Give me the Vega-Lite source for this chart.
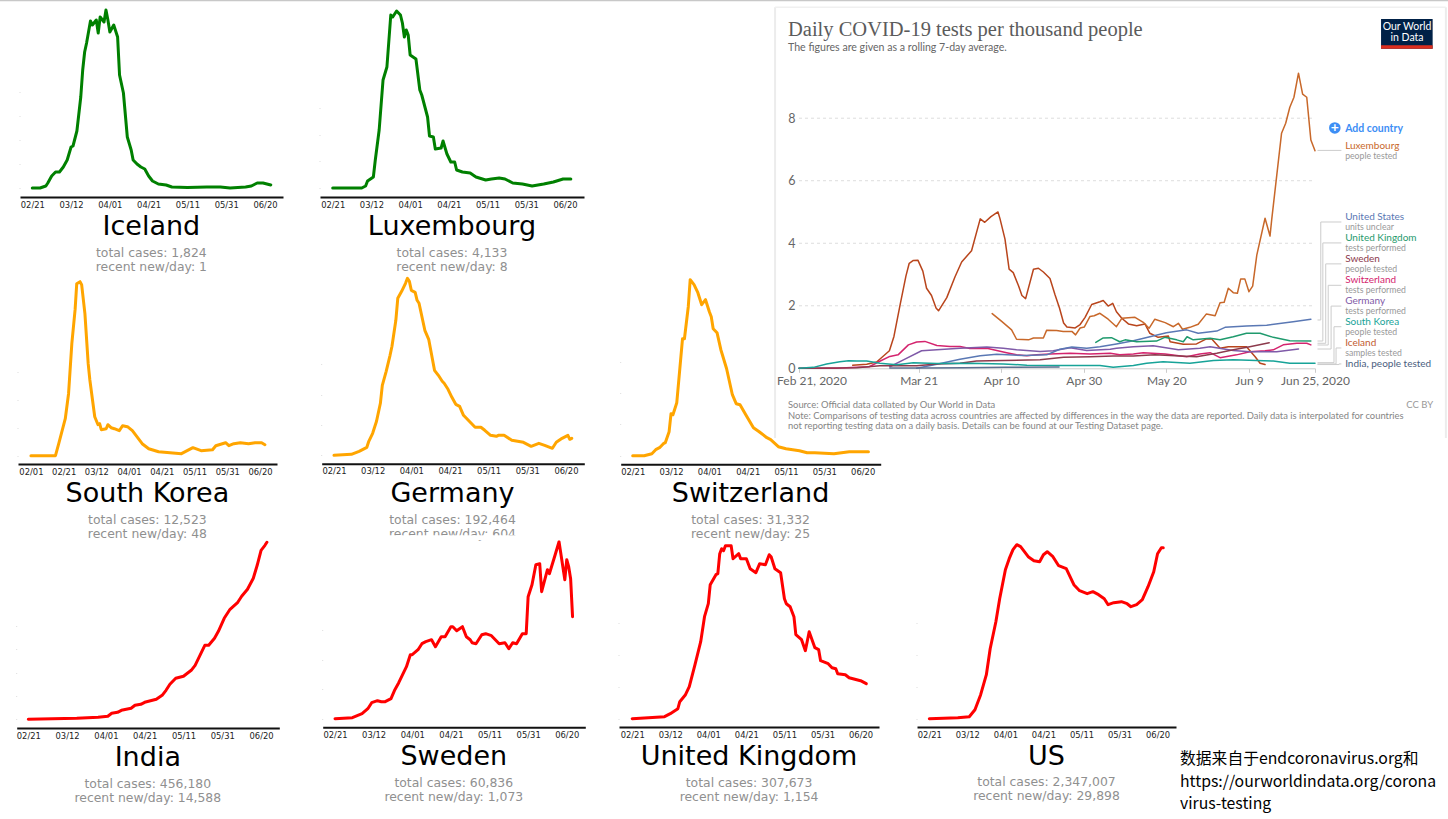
{"$schema":"https://vega.github.io/schema/vega-lite/v6.json","width":1448,"height":819,"padding":0,"autosize":{"type":"none"},"background":"white",
"config":{"view":{"stroke":null},"axis":{"grid":false,"labelOverlap":false,"labelFlush":false},"axisX":{"domainColor":"#111","domainWidth":2,"ticks":false,"labelFont":"DejaVu Sans","labelFontSize":8.4,"labelColor":"#222","labelPadding":3,"labelAngle":0},"axisY":{"labels":false,"domain":false,"tickSize":1,"tickColor":"#dddddd"},"text":{"font":"DejaVu Sans"},"line":{"strokeJoin":"round","strokeCap":"round"}},
"datasets":{
"iceland":[{"day":0,"v":0},{"day":4,"v":0},{"day":7,"v":2},{"day":8,"v":5},{"day":10,"v":12},{"day":12,"v":16},{"day":14,"v":16},{"day":16,"v":21},{"day":18,"v":28},{"day":20,"v":41},{"day":21,"v":42},{"day":23,"v":57},{"day":25,"v":91},{"day":26,"v":118},{"day":27,"v":136},{"day":28,"v":145},{"day":30,"v":167},{"day":31,"v":163},{"day":33,"v":168},{"day":34,"v":155},{"day":35,"v":171},{"day":37,"v":166},{"day":38,"v":178},{"day":39,"v":168},{"day":40,"v":156},{"day":42,"v":163},{"day":44,"v":151},{"day":45,"v":113},{"day":47,"v":95},{"day":49,"v":51},{"day":51,"v":38},{"day":52,"v":28},{"day":54,"v":24},{"day":56,"v":21},{"day":58,"v":19},{"day":60,"v":12},{"day":62,"v":7},{"day":65,"v":4},{"day":69,"v":3},{"day":72,"v":1},{"day":80,"v":0.5},{"day":90,"v":1},{"day":97,"v":1},{"day":102,"v":0},{"day":110,"v":1},{"day":113,"v":2},{"day":116,"v":5},{"day":119,"v":5},{"day":123,"v":3}],
"luxembourg":[{"day":0,"v":0},{"day":15,"v":0},{"day":17,"v":2},{"day":18,"v":7},{"day":21,"v":11},{"day":22,"v":28},{"day":24,"v":58},{"day":26,"v":108},{"day":28,"v":121},{"day":30,"v":173},{"day":31,"v":171},{"day":33,"v":177},{"day":35,"v":173},{"day":36,"v":165},{"day":37,"v":151},{"day":38,"v":158},{"day":39,"v":153},{"day":40,"v":133},{"day":43,"v":129},{"day":45,"v":98},{"day":46,"v":93},{"day":49,"v":71},{"day":50,"v":52},{"day":52,"v":51},{"day":53,"v":39},{"day":56,"v":40},{"day":57,"v":47},{"day":59,"v":34},{"day":61,"v":26},{"day":63,"v":26},{"day":64,"v":18},{"day":67,"v":16},{"day":71,"v":15},{"day":74,"v":11},{"day":79,"v":8},{"day":82,"v":9},{"day":86,"v":10},{"day":89,"v":9},{"day":93,"v":5},{"day":98,"v":4},{"day":103,"v":2},{"day":109,"v":4},{"day":114,"v":6},{"day":119,"v":9},{"day":123,"v":9}],
"korea":[{"day":-20,"v":0},{"day":-5,"v":0},{"day":-3,"v":12},{"day":1,"v":37},{"day":3,"v":62},{"day":5,"v":112},{"day":7,"v":146},{"day":8,"v":172},{"day":10,"v":174},{"day":11,"v":171},{"day":13,"v":142},{"day":15,"v":92},{"day":16,"v":76},{"day":19,"v":39},{"day":21,"v":31},{"day":22,"v":32},{"day":23,"v":26},{"day":26,"v":27},{"day":27,"v":31},{"day":29,"v":28},{"day":31,"v":27},{"day":34,"v":25},{"day":36,"v":30},{"day":39,"v":29},{"day":42,"v":25},{"day":48,"v":12},{"day":52,"v":7},{"day":58,"v":4},{"day":65,"v":3},{"day":72,"v":2},{"day":79,"v":8},{"day":84,"v":5},{"day":91,"v":6},{"day":93,"v":10},{"day":99,"v":13},{"day":101,"v":10},{"day":104,"v":12},{"day":108,"v":13},{"day":113,"v":12},{"day":117,"v":13},{"day":121,"v":13},{"day":123,"v":11}],
"germany":[{"day":0,"v":0},{"day":9,"v":1},{"day":13,"v":4},{"day":17,"v":8},{"day":18,"v":14},{"day":20,"v":22},{"day":22,"v":34},{"day":24,"v":52},{"day":25,"v":70},{"day":27,"v":84},{"day":29,"v":100},{"day":30,"v":109},{"day":32,"v":135},{"day":33,"v":157},{"day":35,"v":164},{"day":37,"v":172},{"day":38,"v":177},{"day":39,"v":174},{"day":40,"v":165},{"day":42,"v":163},{"day":43,"v":155},{"day":44,"v":152},{"day":47,"v":125},{"day":49,"v":116},{"day":52,"v":85},{"day":54,"v":80},{"day":56,"v":74},{"day":57,"v":72},{"day":59,"v":66},{"day":61,"v":58},{"day":63,"v":51},{"day":65,"v":49},{"day":67,"v":40},{"day":71,"v":32},{"day":73,"v":28},{"day":76,"v":28},{"day":78,"v":25},{"day":81,"v":20},{"day":84,"v":19},{"day":85,"v":20},{"day":88,"v":20},{"day":92,"v":15},{"day":95,"v":14},{"day":98,"v":13},{"day":102,"v":9},{"day":106,"v":12},{"day":109,"v":10},{"day":113,"v":7},{"day":115,"v":13},{"day":118,"v":17},{"day":121,"v":20},{"day":122,"v":16},{"day":123,"v":17}],
"switzerland":[{"day":0,"v":0},{"day":6,"v":0},{"day":10,"v":2},{"day":12,"v":6},{"day":14,"v":8},{"day":16,"v":12},{"day":17,"v":13},{"day":19,"v":24},{"day":20,"v":42},{"day":21,"v":41},{"day":23,"v":53},{"day":26,"v":117},{"day":27,"v":117},{"day":29,"v":149},{"day":30,"v":176},{"day":32,"v":171},{"day":34,"v":163},{"day":36,"v":151},{"day":38,"v":156},{"day":40,"v":144},{"day":41,"v":139},{"day":42,"v":127},{"day":44,"v":123},{"day":46,"v":106},{"day":49,"v":87},{"day":52,"v":61},{"day":54,"v":52},{"day":56,"v":51},{"day":59,"v":41},{"day":63,"v":28},{"day":66,"v":24},{"day":70,"v":18},{"day":72,"v":16},{"day":76,"v":9},{"day":80,"v":7},{"day":87,"v":5},{"day":91,"v":3},{"day":95,"v":3},{"day":105,"v":2},{"day":113,"v":4},{"day":123,"v":4}],
"india":[{"day":0,"v":0},{"day":25,"v":1},{"day":36,"v":2},{"day":41,"v":3},{"day":43,"v":6},{"day":46,"v":7},{"day":48,"v":9},{"day":53,"v":11},{"day":55,"v":14},{"day":58,"v":15},{"day":60,"v":17},{"day":62,"v":18},{"day":66,"v":20},{"day":69,"v":24},{"day":71,"v":29},{"day":73,"v":35},{"day":76,"v":41},{"day":80,"v":43},{"day":84,"v":49},{"day":86,"v":54},{"day":89,"v":66},{"day":91,"v":74},{"day":93,"v":74},{"day":96,"v":81},{"day":98,"v":88},{"day":101,"v":101},{"day":104,"v":110},{"day":108,"v":117},{"day":110,"v":123},{"day":113,"v":130},{"day":116,"v":141},{"day":118,"v":154},{"day":120,"v":169},{"day":122,"v":174},{"day":123,"v":177}],
"sweden":[{"day":0,"v":0},{"day":9,"v":1},{"day":14,"v":5},{"day":17,"v":10},{"day":19,"v":16},{"day":22,"v":18},{"day":24,"v":17},{"day":26,"v":17},{"day":29,"v":20},{"day":31,"v":29},{"day":33,"v":36},{"day":35,"v":44},{"day":37,"v":52},{"day":39,"v":64},{"day":40,"v":64},{"day":43,"v":69},{"day":45,"v":75},{"day":47,"v":77},{"day":50,"v":79},{"day":52,"v":72},{"day":55,"v":82},{"day":57,"v":82},{"day":60,"v":92},{"day":61,"v":92},{"day":63,"v":88},{"day":66,"v":92},{"day":68,"v":82},{"day":70,"v":79},{"day":71,"v":76},{"day":73,"v":75},{"day":76,"v":84},{"day":78,"v":85},{"day":81,"v":83},{"day":83,"v":79},{"day":85,"v":75},{"day":88,"v":76},{"day":90,"v":70},{"day":92,"v":76},{"day":94,"v":75},{"day":97,"v":85},{"day":99,"v":85},{"day":100,"v":122},{"day":102,"v":134},{"day":104,"v":154},{"day":106,"v":155},{"day":107,"v":127},{"day":110,"v":149},{"day":111,"v":145},{"day":114,"v":164},{"day":116,"v":177},{"day":119,"v":139},{"day":120,"v":159},{"day":121,"v":152},{"day":122,"v":140},{"day":123,"v":102}],
"uk":[{"day":0,"v":0},{"day":17,"v":2},{"day":20,"v":5},{"day":24,"v":10},{"day":25,"v":17},{"day":28,"v":24},{"day":30,"v":32},{"day":33,"v":54},{"day":36,"v":77},{"day":38,"v":102},{"day":40,"v":115},{"day":41,"v":134},{"day":44,"v":144},{"day":45,"v":145},{"day":46,"v":165},{"day":47,"v":170},{"day":48,"v":168},{"day":49,"v":173},{"day":52,"v":173},{"day":53,"v":160},{"day":56,"v":165},{"day":57,"v":160},{"day":60,"v":160},{"day":62,"v":150},{"day":65,"v":146},{"day":67,"v":155},{"day":70,"v":154},{"day":72,"v":164},{"day":73,"v":162},{"day":75,"v":150},{"day":78,"v":146},{"day":80,"v":120},{"day":81,"v":115},{"day":83,"v":112},{"day":85,"v":102},{"day":86,"v":84},{"day":89,"v":79},{"day":91,"v":68},{"day":93,"v":87},{"day":96,"v":71},{"day":98,"v":69},{"day":99,"v":58},{"day":103,"v":55},{"day":105,"v":51},{"day":107,"v":50},{"day":108,"v":45},{"day":112,"v":44},{"day":114,"v":41},{"day":120,"v":38},{"day":123,"v":35}],
"us":[{"day":0,"v":0},{"day":15,"v":1},{"day":21,"v":2},{"day":24,"v":9},{"day":27,"v":24},{"day":30,"v":44},{"day":32,"v":70},{"day":35,"v":97},{"day":37,"v":120},{"day":40,"v":149},{"day":42,"v":160},{"day":44,"v":169},{"day":46,"v":174},{"day":48,"v":172},{"day":52,"v":162},{"day":55,"v":158},{"day":58,"v":157},{"day":60,"v":164},{"day":62,"v":167},{"day":65,"v":162},{"day":68,"v":153},{"day":72,"v":150},{"day":76,"v":134},{"day":79,"v":128},{"day":83,"v":125},{"day":86,"v":127},{"day":89,"v":124},{"day":92,"v":120},{"day":94,"v":114},{"day":97,"v":116},{"day":101,"v":117},{"day":104,"v":115},{"day":106,"v":112},{"day":109,"v":114},{"day":112,"v":119},{"day":115,"v":132},{"day":118,"v":147},{"day":120,"v":165},{"day":122,"v":171},{"day":123,"v":171}],
"tests":[
{"s":"Iceland","day":13,"v":0.1},{"s":"Iceland","day":16.4,"v":0.13},{"s":"Iceland","day":18.8,"v":0.2},{"s":"Iceland","day":21.9,"v":0.56},{"s":"Iceland","day":23,"v":1.02},{"s":"Iceland","day":24.5,"v":2.04},{"s":"Iceland","day":25.9,"v":2.95},{"s":"Iceland","day":26.7,"v":3.36},{"s":"Iceland","day":27.7,"v":3.45},{"s":"Iceland","day":28.8,"v":3.46},{"s":"Iceland","day":30,"v":3.11},{"s":"Iceland","day":30.9,"v":2.56},{"s":"Iceland","day":32.1,"v":2.33},{"s":"Iceland","day":33.2,"v":1.93},{"s":"Iceland","day":33.8,"v":1.84},{"s":"Iceland","day":35.8,"v":2.26},{"s":"Iceland","day":37.8,"v":2.93},{"s":"Iceland","day":39.4,"v":3.4},{"s":"Iceland","day":41.8,"v":3.76},{"s":"Iceland","day":43.9,"v":4.78},{"s":"Iceland","day":45,"v":4.67},{"s":"Iceland","day":46.5,"v":4.85},{"s":"Iceland","day":48.2,"v":5},{"s":"Iceland","day":48.7,"v":4.78},{"s":"Iceland","day":49.9,"v":4.13},{"s":"Iceland","day":50.9,"v":3.17},{"s":"Iceland","day":51.9,"v":3.06},{"s":"Iceland","day":53.2,"v":2.63},{"s":"Iceland","day":54,"v":2.33},{"s":"Iceland","day":54.9,"v":2.23},{"s":"Iceland","day":56.8,"v":3.17},{"s":"Iceland","day":58,"v":3.2},{"s":"Iceland","day":59.2,"v":3.08},{"s":"Iceland","day":60.8,"v":2.87},{"s":"Iceland","day":62,"v":2.36},{"s":"Iceland","day":63.1,"v":1.93},{"s":"Iceland","day":64.1,"v":1.45},{"s":"Iceland","day":64.9,"v":1.32},{"s":"Iceland","day":66.9,"v":1.29},{"s":"Iceland","day":68.1,"v":1.4},{"s":"Iceland","day":69.3,"v":1.63},{"s":"Iceland","day":70.9,"v":2.04},{"s":"Iceland","day":72.9,"v":2.13},{"s":"Iceland","day":73.7,"v":2.17},{"s":"Iceland","day":74.9,"v":1.99},{"s":"Iceland","day":76,"v":2.08},{"s":"Iceland","day":76.9,"v":1.81},{"s":"Iceland","day":78.2,"v":1.6},{"s":"Iceland","day":79.8,"v":1.42},{"s":"Iceland","day":81.8,"v":1.36},{"s":"Iceland","day":83.8,"v":1.42},{"s":"Iceland","day":85,"v":1.12},{"s":"Iceland","day":87,"v":0.99},{"s":"Iceland","day":89.5,"v":1.03},{"s":"Iceland","day":89.9,"v":0.85},{"s":"Iceland","day":93.1,"v":0.77},{"s":"Iceland","day":96.3,"v":0.78},{"s":"Iceland","day":98.7,"v":0.94},{"s":"Iceland","day":100,"v":0.94},{"s":"Iceland","day":102,"v":0.64},{"s":"Iceland","day":104,"v":0.69},{"s":"Iceland","day":108.4,"v":0.69},{"s":"Iceland","day":110.5,"v":0.37},{"s":"Iceland","day":111.7,"v":0.16},{"s":"Iceland","day":112.9,"v":0.12},
{"s":"Luxembourg","day":46.8,"v":1.75},{"s":"Luxembourg","day":49.1,"v":1.5},{"s":"Luxembourg","day":51.5,"v":1.23},{"s":"Luxembourg","day":52.7,"v":0.93},{"s":"Luxembourg","day":55.6,"v":0.91},{"s":"Luxembourg","day":56.8,"v":0.97},{"s":"Luxembourg","day":59.2,"v":0.97},{"s":"Luxembourg","day":60,"v":1.22},{"s":"Luxembourg","day":62.4,"v":1.21},{"s":"Luxembourg","day":64,"v":1.18},{"s":"Luxembourg","day":66.1,"v":1.18},{"s":"Luxembourg","day":67,"v":1.07},{"s":"Luxembourg","day":68.1,"v":1.29},{"s":"Luxembourg","day":69.1,"v":1.32},{"s":"Luxembourg","day":70.5,"v":1.66},{"s":"Luxembourg","day":71.5,"v":1.68},{"s":"Luxembourg","day":72.9,"v":1.76},{"s":"Luxembourg","day":74.9,"v":1.57},{"s":"Luxembourg","day":76.9,"v":1.33},{"s":"Luxembourg","day":78.2,"v":1.6},{"s":"Luxembourg","day":81.4,"v":1.63},{"s":"Luxembourg","day":83.4,"v":1.47},{"s":"Luxembourg","day":84.8,"v":1.28},{"s":"Luxembourg","day":86.2,"v":1.57},{"s":"Luxembourg","day":88.7,"v":1.46},{"s":"Luxembourg","day":90.7,"v":1.33},{"s":"Luxembourg","day":91.9,"v":1.44},{"s":"Luxembourg","day":92.9,"v":1.25},{"s":"Luxembourg","day":94.7,"v":1.31},{"s":"Luxembourg","day":96.7,"v":1.41},{"s":"Luxembourg","day":98.7,"v":1.74},{"s":"Luxembourg","day":100.8,"v":1.68},{"s":"Luxembourg","day":102,"v":2.1},{"s":"Luxembourg","day":103,"v":2.11},{"s":"Luxembourg","day":104,"v":2.56},{"s":"Luxembourg","day":105.2,"v":2.42},{"s":"Luxembourg","day":106.2,"v":2.4},{"s":"Luxembourg","day":107,"v":2.86},{"s":"Luxembourg","day":108,"v":2.86},{"s":"Luxembourg","day":109,"v":2.45},{"s":"Luxembourg","day":109.9,"v":2.63},{"s":"Luxembourg","day":110.9,"v":3.62},{"s":"Luxembourg","day":112.9,"v":4.8},{"s":"Luxembourg","day":114.1,"v":4.23},{"s":"Luxembourg","day":114.5,"v":4.74},{"s":"Luxembourg","day":116.9,"v":7.52},{"s":"Luxembourg","day":117.9,"v":7.84},{"s":"Luxembourg","day":118.9,"v":8.35},{"s":"Luxembourg","day":119.9,"v":8.67},{"s":"Luxembourg","day":121,"v":9.44},{"s":"Luxembourg","day":122,"v":8.77},{"s":"Luxembourg","day":123,"v":8.67},{"s":"Luxembourg","day":124,"v":7.3},{"s":"Luxembourg","day":125,"v":6.96},
{"s":"Switzerland","day":0,"v":0},{"s":"Switzerland","day":9,"v":0},{"s":"Switzerland","day":14,"v":0.03},{"s":"Switzerland","day":17,"v":0.05},{"s":"Switzerland","day":19.2,"v":0.2},{"s":"Switzerland","day":22,"v":0.38},{"s":"Switzerland","day":24,"v":0.43},{"s":"Switzerland","day":26.5,"v":0.75},{"s":"Switzerland","day":28.5,"v":0.84},{"s":"Switzerland","day":30.5,"v":0.86},{"s":"Switzerland","day":33.4,"v":0.73},{"s":"Switzerland","day":36.6,"v":0.7},{"s":"Switzerland","day":39,"v":0.7},{"s":"Switzerland","day":41.4,"v":0.63},{"s":"Switzerland","day":45.5,"v":0.64},{"s":"Switzerland","day":47.9,"v":0.57},{"s":"Switzerland","day":50.3,"v":0.5},{"s":"Switzerland","day":52.7,"v":0.43},{"s":"Switzerland","day":55.2,"v":0.4},{"s":"Switzerland","day":57.6,"v":0.43},{"s":"Switzerland","day":60.8,"v":0.46},{"s":"Switzerland","day":65.7,"v":0.48},{"s":"Switzerland","day":70.5,"v":0.46},{"s":"Switzerland","day":75.4,"v":0.48},{"s":"Switzerland","day":77.7,"v":0.43},{"s":"Switzerland","day":81,"v":0.46},{"s":"Switzerland","day":83.4,"v":0.5},{"s":"Switzerland","day":88.7,"v":0.46},{"s":"Switzerland","day":93.9,"v":0.37},{"s":"Switzerland","day":97.1,"v":0.46},{"s":"Switzerland","day":99.6,"v":0.5},{"s":"Switzerland","day":102,"v":0.34},{"s":"Switzerland","day":106,"v":0.43},{"s":"Switzerland","day":109.2,"v":0.53},{"s":"Switzerland","day":112.9,"v":0.56},{"s":"Switzerland","day":114.9,"v":0.59},{"s":"Switzerland","day":117.3,"v":0.75},{"s":"Switzerland","day":120.6,"v":0.8},{"s":"Switzerland","day":123,"v":0.8},{"s":"Switzerland","day":124,"v":0.75},
{"s":"Germany","day":22,"v":0.05},{"s":"Germany","day":25.3,"v":0.27},{"s":"Germany","day":29.7,"v":0.56},{"s":"Germany","day":33.4,"v":0.59},{"s":"Germany","day":39,"v":0.64},{"s":"Germany","day":45.5,"v":0.68},{"s":"Germany","day":49.5,"v":0.64},{"s":"Germany","day":52.7,"v":0.59},{"s":"Germany","day":58.4,"v":0.54},{"s":"Germany","day":61.6,"v":0.56},{"s":"Germany","day":65.7,"v":0.66},{"s":"Germany","day":69.7,"v":0.57},{"s":"Germany","day":75.4,"v":0.61},{"s":"Germany","day":76.9,"v":0.64},{"s":"Germany","day":81,"v":0.69},{"s":"Germany","day":85.8,"v":0.72},{"s":"Germany","day":91.9,"v":0.59},{"s":"Germany","day":97.1,"v":0.64},{"s":"Germany","day":99.6,"v":0.69},{"s":"Germany","day":105.2,"v":0.57},{"s":"Germany","day":109.2,"v":0.53},{"s":"Germany","day":115.7,"v":0.53},{"s":"Germany","day":121,"v":0.62},
{"s":"United States","day":28.5,"v":0},{"s":"United States","day":33.4,"v":0.13},{"s":"United States","day":39,"v":0.29},{"s":"United States","day":43.9,"v":0.4},{"s":"United States","day":47.9,"v":0.45},{"s":"United States","day":54.4,"v":0.41},{"s":"United States","day":60,"v":0.43},{"s":"United States","day":63.2,"v":0.61},{"s":"United States","day":66.1,"v":0.68},{"s":"United States","day":69.7,"v":0.64},{"s":"United States","day":72.9,"v":0.69},{"s":"United States","day":76.9,"v":0.78},{"s":"United States","day":81,"v":0.88},{"s":"United States","day":85,"v":1.01},{"s":"United States","day":89,"v":1.14},{"s":"United States","day":93.9,"v":1.23},{"s":"United States","day":96.7,"v":1.12},{"s":"United States","day":101.2,"v":1.19},{"s":"United States","day":103.2,"v":1.31},{"s":"United States","day":108.4,"v":1.35},{"s":"United States","day":113.3,"v":1.38},{"s":"United States","day":119.7,"v":1.49},{"s":"United States","day":124,"v":1.57},
{"s":"United Kingdom","day":71.9,"v":0.83},{"s":"United Kingdom","day":73.7,"v":0.97},{"s":"United Kingdom","day":75.7,"v":0.98},{"s":"United Kingdom","day":77.7,"v":0.85},{"s":"United Kingdom","day":79,"v":0.91},{"s":"United Kingdom","day":81.8,"v":0.85},{"s":"United Kingdom","day":86.6,"v":0.87},{"s":"United Kingdom","day":88.6,"v":0.99},{"s":"United Kingdom","day":91.5,"v":0.91},{"s":"United Kingdom","day":93.1,"v":0.85},{"s":"United Kingdom","day":94,"v":1.01},{"s":"United Kingdom","day":95.5,"v":0.91},{"s":"United Kingdom","day":99.6,"v":0.96},{"s":"United Kingdom","day":102,"v":0.91},{"s":"United Kingdom","day":105.2,"v":1.01},{"s":"United Kingdom","day":108.4,"v":1.12},{"s":"United Kingdom","day":111.7,"v":1.12},{"s":"United Kingdom","day":114.9,"v":0.99},{"s":"United Kingdom","day":118.9,"v":0.88},{"s":"United Kingdom","day":124,"v":0.87},
{"s":"Sweden","day":0,"v":0},{"s":"Sweden","day":14,"v":0.02},{"s":"Sweden","day":19.6,"v":0.08},{"s":"Sweden","day":28.5,"v":0.08},{"s":"Sweden","day":33.4,"v":0.14},{"s":"Sweden","day":39,"v":0.16},{"s":"Sweden","day":43,"v":0.23},{"s":"Sweden","day":49.5,"v":0.25},{"s":"Sweden","day":58.4,"v":0.27},{"s":"Sweden","day":64.1,"v":0.35},{"s":"Sweden","day":70.5,"v":0.37},{"s":"Sweden","day":76.1,"v":0.39},{"s":"Sweden","day":81,"v":0.39},{"s":"Sweden","day":86.2,"v":0.43},{"s":"Sweden","day":92.3,"v":0.39},{"s":"Sweden","day":96.3,"v":0.37},{"s":"Sweden","day":101.2,"v":0.48},{"s":"Sweden","day":105.2,"v":0.59},{"s":"Sweden","day":109.2,"v":0.69},{"s":"Sweden","day":113.9,"v":0.82},
{"s":"South Korea","day":0,"v":0},{"s":"South Korea","day":3.5,"v":0.03},{"s":"South Korea","day":6.7,"v":0.14},{"s":"South Korea","day":9.9,"v":0.21},{"s":"South Korea","day":12,"v":0.24},{"s":"South Korea","day":14,"v":0.23},{"s":"South Korea","day":16.4,"v":0.23},{"s":"South Korea","day":19.6,"v":0.16},{"s":"South Korea","day":23.7,"v":0.11},{"s":"South Korea","day":27.7,"v":0.18},{"s":"South Korea","day":33.4,"v":0.15},{"s":"South Korea","day":41.4,"v":0.16},{"s":"South Korea","day":49.5,"v":0.14},{"s":"South Korea","day":55.2,"v":0.1},{"s":"South Korea","day":62.4,"v":0.09},{"s":"South Korea","day":72.9,"v":0.09},{"s":"South Korea","day":76.1,"v":0.03},{"s":"South Korea","day":81,"v":0.09},{"s":"South Korea","day":84.2,"v":0.16},{"s":"South Korea","day":88.2,"v":0.21},{"s":"South Korea","day":94.7,"v":0.16},{"s":"South Korea","day":100.4,"v":0.25},{"s":"South Korea","day":105.2,"v":0.27},{"s":"South Korea","day":114.9,"v":0.23},{"s":"South Korea","day":118.9,"v":0.16},{"s":"South Korea","day":125,"v":0.16},
{"s":"India","day":22,"v":0.01},{"s":"India","day":30,"v":0.01},{"s":"India","day":40,"v":0.02},{"s":"India","day":50,"v":0.03},{"s":"India","day":63,"v":0.04}
],
"connectors":[
{"id":"us","i":1,"day":125.7,"v":1.545},{"id":"us","i":2,"day":126.4,"v":1.545},{"id":"us","i":3,"day":126.4,"v":4.68},{"id":"us","i":4,"day":131.3,"v":4.68},
{"id":"uk","i":1,"day":125.7,"v":0.873},{"id":"uk","i":2,"day":126.9,"v":0.873},{"id":"uk","i":3,"day":126.9,"v":4.01},{"id":"uk","i":4,"day":131.3,"v":4.01},
{"id":"se","i":1,"day":125.7,"v":0.8},{"id":"se","i":2,"day":127.6,"v":0.8},{"id":"se","i":3,"day":127.6,"v":3.34},{"id":"se","i":4,"day":131.3,"v":3.34},
{"id":"ch","i":1,"day":125.7,"v":0.745},{"id":"ch","i":2,"day":128.2,"v":0.745},{"id":"ch","i":3,"day":128.2,"v":2.655},{"id":"ch","i":4,"day":131.3,"v":2.655},
{"id":"de","i":1,"day":125.7,"v":0.617},{"id":"de","i":2,"day":128.9,"v":0.617},{"id":"de","i":3,"day":128.9,"v":1.99},{"id":"de","i":4,"day":131.3,"v":1.99},
{"id":"kr","i":1,"day":125.7,"v":0.18},{"id":"kr","i":2,"day":129.6,"v":0.18},{"id":"kr","i":3,"day":129.6,"v":1.33},{"id":"kr","i":4,"day":131.3,"v":1.33},
{"id":"is","i":1,"day":125.7,"v":0.14},{"id":"is","i":2,"day":130.1,"v":0.14},{"id":"is","i":3,"day":130.1,"v":0.65},{"id":"is","i":4,"day":131.3,"v":0.65},
{"id":"in","i":1,"day":125.7,"v":0.12},{"id":"in","i":2,"day":130.8,"v":0.12},{"id":"in","i":3,"day":130.8,"v":0.14},{"id":"in","i":4,"day":131.3,"v":0.14},
{"id":"lu","i":1,"day":125.7,"v":6.97},{"id":"lu","i":2,"day":131.3,"v":6.97}
]},
"layer":[
{"layer":[
{"data":{"values":[{}]},"mark":{"type":"rule","color":"#c8c8c8","strokeWidth":2},"encoding":{"x":{"datum":-193.6,"scale":{"domain":[0,125],"range":[799,1315],"zero":false,"nice":false}},"x2":{"datum":157.3},"y":{"datum":11.77,"scale":{"domain":[0,8],"range":[368.3,118.2],"zero":false,"nice":false}}}},
{"data":{"values":[{}]},"mark":{"type":"rule","color":"#ececec","strokeWidth":2},"encoding":{"x":{"datum":-5.8},"y":{"datum":-2.23},"y2":{"datum":11.55}}},
{"data":{"values":[{}]},"mark":{"type":"rule","color":"#ececec","strokeWidth":2},"encoding":{"x":{"datum":156.7},"y":{"datum":-2.23},"y2":{"datum":11.55}}},
{"data":{"values":[{}]},"mark":{"type":"rule","color":"#f0f0f0","strokeWidth":1.5},"encoding":{"x":{"datum":-5.8},"x2":{"datum":156.7},"y":{"datum":11.55}}},
{"data":{"values":[{"g":2},{"g":4},{"g":6},{"g":8}]},"mark":{"type":"rule","color":"#dddddd","strokeWidth":1,"strokeDash":[3,3]},"encoding":{"x":{"datum":0},"x2":{"datum":125},"y":{"field":"g","type":"quantitative"}}},
{"data":{"name":"connectors"},"mark":{"type":"line","color":"#cccccc","strokeWidth":1},"encoding":{"x":{"field":"day","type":"quantitative"},"y":{"field":"v","type":"quantitative"},"detail":{"field":"id"},"order":{"field":"i","type":"quantitative"}}},
{"data":{"name":"tests"},"mark":{"type":"line","strokeWidth":1.5},"encoding":{"x":{"field":"day","type":"quantitative","title":null,"axis":{"orient":"bottom","offset":-450.7,"values":[0,29,49,69,89,109,125],"labelExpr":"datum.value==0||datum.value==125?timeFormat(datetime(2020,1,21+datum.value),'%b %-d, %Y'):timeFormat(datetime(2020,1,21+datum.value),'%b %-d')","labelFont":"Lato","labelFontSize":12,"labelColor":"#666666","domainColor":"#cccccc","domainWidth":1,"ticks":true,"tickColor":"#cccccc","tickSize":4,"labelPadding":3,"labelOffset":{"condition":{"test":"datum.value===0","value":12.5},"value":0}}},"y":{"field":"v","type":"quantitative","title":null,"axis":{"orient":"left","offset":-799,"values":[0,2,4,6,8],"format":"d","domain":false,"ticks":false,"labels":true,"labelFont":"Lato","labelFontSize":12.5,"labelColor":"#666666","labelPadding":4}},"color":{"field":"s","type":"nominal","legend":null,"scale":{"domain":["Luxembourg","Iceland","United States","United Kingdom","Sweden","Switzerland","Germany","South Korea","India"],"range":["#c8682a","#b9451c","#5a78b4","#1f9a6d","#8c3a4c","#d4246e","#7f5aa8","#17a398","#5b6f90"]}}}},
{"data":{"values":[{}]},"mark":{"type":"rect","color":"#002147"},"encoding":{"x":{"datum":141},"x2":{"datum":153.5},"y":{"datum":11.17},"y2":{"datum":10.22}}},
{"data":{"values":[{}]},"mark":{"type":"rect","color":"#dc2e1e"},"encoding":{"x":{"datum":141},"x2":{"datum":153.5},"y":{"datum":10.33},"y2":{"datum":10.22}}},
{"data":{"values":[{"t":"Our World"}]},"mark":{"type":"text","font":"Lato","fontSize":10.5,"color":"white","align":"center","baseline":"middle"},"encoding":{"x":{"datum":147.3},"y":{"datum":10.92},"text":{"field":"t"}}},
{"data":{"values":[{"t":"in Data"}]},"mark":{"type":"text","font":"Lato","fontSize":10.5,"color":"white","align":"center","baseline":"middle"},"encoding":{"x":{"datum":147.3},"y":{"datum":10.57},"text":{"field":"t"}}},
{"data":{"values":[{"t":"Daily COVID-19 tests per thousand people"}]},"mark":{"type":"text","font":"Liberation Serif","fontSize":20.5,"color":"#5b5b5b","align":"left","baseline":"middle"},"encoding":{"x":{"datum":-2.66},"y":{"datum":10.82},"text":{"field":"t"}}},
{"data":{"values":[{"t":"The figures are given as a rolling 7-day average."}]},"mark":{"type":"text","font":"Lato","fontSize":10.6,"color":"#666666","align":"left","baseline":"middle"},"encoding":{"x":{"datum":-2.66},"y":{"datum":10.25},"text":{"field":"t"}}},
{"data":{"values":[{"t":"Source: Official data collated by Our World in Data"}]},"mark":{"type":"text","font":"Lato","fontSize":9.38,"color":"#858585","align":"left","baseline":"middle"},"encoding":{"x":{"datum":-2.66},"y":{"datum":-1.174},"text":{"field":"t"}}},
{"data":{"values":[{"t":"Note: Comparisons of testing data across countries are affected by differences in the way the data are reported. Daily data is interpolated for countries"}]},"mark":{"type":"text","font":"Lato","fontSize":9.38,"color":"#858585","align":"left","baseline":"middle"},"encoding":{"x":{"datum":-2.66},"y":{"datum":-1.51},"text":{"field":"t"}}},
{"data":{"values":[{"t":"not reporting testing data on a daily basis. Details can be found at our Testing Dataset page."}]},"mark":{"type":"text","font":"Lato","fontSize":9.38,"color":"#858585","align":"left","baseline":"middle"},"encoding":{"x":{"datum":-2.66},"y":{"datum":-1.83},"text":{"field":"t"}}},
{"data":{"values":[{"t":"CC BY"}]},"mark":{"type":"text","font":"Lato","fontSize":9.5,"color":"#999999","align":"right","baseline":"middle"},"encoding":{"x":{"datum":153.6},"y":{"datum":-1.174},"text":{"field":"t"}}},
{"data":{"values":[{}]},"mark":{"type":"point","filled":true,"shape":"circle","color":"#3d8ef5","opacity":1,"size":133},"encoding":{"x":{"datum":129.8},"y":{"datum":7.69}}},
{"data":{"values":[{"t":"+"}]},"mark":{"type":"text","font":"Lato","fontWeight":"bold","fontSize":14,"color":"white","align":"center","baseline":"middle"},"encoding":{"x":{"datum":129.8},"y":{"datum":7.69},"text":{"field":"t"}}},
{"data":{"values":[{"t":"Add country"}]},"mark":{"type":"text","font":"Lato","fontWeight":"bold","fontSize":10.5,"color":"#3d8ef5","align":"left","baseline":"middle","dy":1},"encoding":{"x":{"datum":132.3},"y":{"datum":7.69},"text":{"field":"t"}}},
{"data":{"values":[{"t":"Luxembourg"}]},"mark":{"type":"text","font":"Lato","fontSize":10,"color":"#c8682a","align":"left","baseline":"middle"},"encoding":{"x":{"datum":132.3},"y":{"datum":7.11},"text":{"field":"t"}}},
{"data":{"values":[{"t":"people tested"}]},"mark":{"type":"text","font":"Lato","fontSize":8.7,"color":"#999999","align":"left","baseline":"middle"},"encoding":{"x":{"datum":132.3},"y":{"datum":6.79},"text":{"field":"t"}}}
]},
{"data":{"values":[{"name":"United States","sub":"units unclear"},{"name":"United Kingdom","sub":"tests performed"},{"name":"Sweden","sub":"people tested"},{"name":"Switzerland","sub":"tests performed"},{"name":"Germany","sub":"tests performed"},{"name":"South Korea","sub":"people tested"},{"name":"Iceland","sub":"samples tested"},{"name":"India, people tested","sub":""}]},
"encoding":{"x":{"datum":132.3,"scale":{"domain":[0,125],"range":[799,1315],"zero":false,"nice":false},"axis":null},"y":{"field":"name","type":"nominal","sort":null,"axis":null,"scale":{"type":"point","domain":["United States","United Kingdom","Sweden","Switzerland","Germany","South Korea","Iceland","India, people tested"],"range":[217,364],"padding":0}}},
"layer":[
{"mark":{"type":"text","font":"Lato","fontSize":10,"align":"left","baseline":"middle"},"encoding":{"text":{"field":"name"},"color":{"field":"name","type":"nominal","legend":null,"scale":{"domain":["United States","United Kingdom","Sweden","Switzerland","Germany","South Korea","Iceland","India, people tested"],"range":["#5a78b4","#1f9a6d","#8c3a4c","#d4246e","#7f5aa8","#17a398","#c15a2f","#4a5e80"]}}}},
{"mark":{"type":"text","font":"Lato","fontSize":8.7,"align":"left","baseline":"middle","dy":10,"color":"#999999"},"encoding":{"text":{"field":"sub"}}}
]},
{"layer":[
{"data":{"name":"iceland"},"mark":{"type":"line","color":"#008000","strokeWidth":3},"encoding":{"x":{"field":"day","type":"quantitative","title":null,"scale":{"domain":[-6.34,129.3],"range":[20,283],"zero":false,"nice":false},"axis":{"orient":"bottom","offset":-622,"values":[0,20,40,60,80,100,120],"labelExpr":"timeFormat(datetime(2020,1,21+datum.value),'%m/%d')"}},"y":{"field":"v","type":"quantitative","title":null,"scale":{"domain":[0,100],"range":[188,88],"zero":false,"nice":false},"axis":{"orient":"left","offset":-20,"values":[0,24,48,72,96,120,144,168]}}}},
{"data":{"values":[{"country":"Iceland","total":"total cases: 1,824","recent":"recent new/day: 1"}]},"encoding":{"x":{"datum":61.4},"y":{"datum":0}},"layer":[
{"mark":{"type":"text","fontSize":27,"align":"center","dy":38.5,"color":"#000000"},"encoding":{"text":{"field":"country"}}},
{"mark":{"type":"text","fontSize":12.4,"align":"center","dy":64.5,"color":"#909090"},"encoding":{"text":{"field":"total"}}},
{"mark":{"type":"text","fontSize":12.4,"align":"center","dy":78.5,"color":"#909090"},"encoding":{"text":{"field":"recent"}}}]}
]},
{"layer":[
{"data":{"name":"luxembourg"},"mark":{"type":"line","color":"#008000","strokeWidth":3},"encoding":{"x":{"field":"day","type":"quantitative","title":null,"scale":{"domain":[-6.56,129.8],"range":[320,584],"zero":false,"nice":false},"axis":{"orient":"bottom","offset":-622,"values":[0,20,40,60,80,100,120],"labelExpr":"timeFormat(datetime(2020,1,21+datum.value),'%m/%d')"}},"y":{"field":"v","type":"quantitative","title":null,"scale":{"domain":[0,100],"range":[188,88],"zero":false,"nice":false},"axis":{"orient":"left","offset":-320,"values":[0,26.7,53.4,80.1,106.8,133.5,160.2]}}}},
{"data":{"values":[{"country":"Luxembourg","total":"total cases: 4,133","recent":"recent new/day: 8"}]},"encoding":{"x":{"datum":61.6},"y":{"datum":0}},"layer":[
{"mark":{"type":"text","fontSize":27,"align":"center","dy":38.5,"color":"#000000"},"encoding":{"text":{"field":"country"}}},
{"mark":{"type":"text","fontSize":12.4,"align":"center","dy":64.5,"color":"#909090"},"encoding":{"text":{"field":"total"}}},
{"mark":{"type":"text","fontSize":12.4,"align":"center","dy":78.5,"color":"#909090"},"encoding":{"text":{"field":"recent"}}}]}
]},
{"layer":[
{"data":{"name":"korea"},"mark":{"type":"line","color":"#ffa500","strokeWidth":3},"encoding":{"x":{"field":"day","type":"quantitative","title":null,"scale":{"domain":[-27.9,130.4],"range":[18,277],"zero":false,"nice":false},"axis":{"orient":"bottom","offset":-355,"values":[-20,0,20,40,60,80,100,120],"labelExpr":"timeFormat(datetime(2020,1,21+datum.value),'%m/%d')"}},"y":{"field":"v","type":"quantitative","title":null,"scale":{"domain":[0,100],"range":[455.7,355.7],"zero":false,"nice":false},"axis":{"orient":"left","offset":-18,"values":[0,28,56,84,112,140,168]}}}},
{"data":{"values":[{"country":"South Korea","total":"total cases: 12,523","recent":"recent new/day: 48"}]},"encoding":{"x":{"datum":51.2},"y":{"datum":0}},"layer":[
{"mark":{"type":"text","fontSize":27,"align":"center","dy":38.5,"color":"#000000"},"encoding":{"text":{"field":"country"}}},
{"mark":{"type":"text","fontSize":12.4,"align":"center","dy":64.5,"color":"#909090"},"encoding":{"text":{"field":"total"}}},
{"mark":{"type":"text","fontSize":12.4,"align":"center","dy":78,"color":"#909090"},"encoding":{"text":{"field":"recent"}}}]}
]},
{"layer":[
{"data":{"name":"germany"},"mark":{"type":"line","color":"#ffa500","strokeWidth":3},"encoding":{"x":{"field":"day","type":"quantitative","title":null,"scale":{"domain":[-6.36,129.5],"range":[321.7,584.3],"zero":false,"nice":false},"axis":{"orient":"bottom","offset":-355.3,"values":[0,20,40,60,80,100,120],"labelExpr":"timeFormat(datetime(2020,1,21+datum.value),'%m/%d')"}},"y":{"field":"v","type":"quantitative","title":null,"scale":{"domain":[0,100],"range":[455.3,355.3],"zero":false,"nice":false},"axis":{"orient":"left","offset":-321.7,"values":[0,30.4,60.8,91.2,121.6,152]}}}},
{"data":{"values":[{"country":"Germany","total":"total cases: 192,464","recent":"recent new/day: 604"}]},"encoding":{"x":{"datum":61.3},"y":{"datum":0}},"layer":[
{"mark":{"type":"text","fontSize":27,"align":"center","dy":38.5,"color":"#000000"},"encoding":{"text":{"field":"country"}}},
{"mark":{"type":"text","fontSize":12.4,"align":"center","dy":64.5,"color":"#909090"},"encoding":{"text":{"field":"total"}}},
{"mark":{"type":"text","fontSize":12.4,"align":"center","dy":78.5,"color":"#909090"},"encoding":{"text":{"field":"recent"}}}]}
]},
{"layer":[
{"data":{"name":"switzerland"},"mark":{"type":"line","color":"#ffa500","strokeWidth":3},"encoding":{"x":{"field":"day","type":"quantitative","title":null,"scale":{"domain":[-6.26,129.4],"range":[620.7,880.7],"zero":false,"nice":false},"axis":{"orient":"bottom","offset":-354.7,"values":[0,20,40,60,80,100,120],"labelExpr":"timeFormat(datetime(2020,1,21+datum.value),'%m/%d')"}},"y":{"field":"v","type":"quantitative","title":null,"scale":{"domain":[0,100],"range":[455.7,355.7],"zero":false,"nice":false},"axis":{"orient":"left","offset":-620.7,"values":[0,31.3,62.6,93.9,125.2,156.5]}}}},
{"data":{"values":[{"country":"Switzerland","total":"total cases: 31,332","recent":"recent new/day: 25"}]},"encoding":{"x":{"datum":61.5},"y":{"datum":0}},"layer":[
{"mark":{"type":"text","fontSize":27,"align":"center","dy":38.5,"color":"#000000"},"encoding":{"text":{"field":"country"}}},
{"mark":{"type":"text","fontSize":12.4,"align":"center","dy":64.5,"color":"#909090"},"encoding":{"text":{"field":"total"}}},
{"mark":{"type":"text","fontSize":12.4,"align":"center","dy":78.5,"color":"#909090"},"encoding":{"text":{"field":"recent"}}}]}
]},
{"layer":[
{"data":{"name":"india"},"mark":{"type":"line","color":"#ff0000","strokeWidth":3},"encoding":{"x":{"field":"day","type":"quantitative","title":null,"scale":{"domain":[-5.98,129.4],"range":[16.7,279.3],"zero":false,"nice":false},"axis":{"orient":"bottom","offset":-91,"values":[0,20,40,60,80,100,120],"labelExpr":"timeFormat(datetime(2020,1,21+datum.value),'%m/%d')"}},"y":{"field":"v","type":"quantitative","title":null,"scale":{"domain":[0,100],"range":[719.3,619.3],"zero":false,"nice":false},"axis":{"orient":"left","offset":-16.7,"values":[0,23.3,46.6,69.9,93.2,116.5,139.8,163.1]}}}},
{"data":{"values":[{"country":"India","total":"total cases: 456,180","recent":"recent new/day: 14,588"}]},"encoding":{"x":{"datum":61.6},"y":{"datum":0}},"layer":[
{"mark":{"type":"text","fontSize":27,"align":"center","dy":38.5,"color":"#000000"},"encoding":{"text":{"field":"country"}}},
{"mark":{"type":"text","fontSize":12.4,"align":"center","dy":65,"color":"#909090"},"encoding":{"text":{"field":"total"}}},
{"mark":{"type":"text","fontSize":12.4,"align":"center","dy":78.5,"color":"#909090"},"encoding":{"text":{"field":"recent"}}}]}
]},
{"layer":[
{"data":{"name":"sweden"},"mark":{"type":"line","color":"#ff0000","strokeWidth":3},"encoding":{"x":{"field":"day","type":"quantitative","title":null,"scale":{"domain":[-6.37,129.6],"range":[322.7,585.3],"zero":false,"nice":false},"axis":{"orient":"bottom","offset":-91.7,"values":[0,20,40,60,80,100,120],"labelExpr":"timeFormat(datetime(2020,1,21+datum.value),'%m/%d')"}},"y":{"field":"v","type":"quantitative","title":null,"scale":{"domain":[0,100],"range":[718.7,618.7],"zero":false,"nice":false},"axis":{"orient":"left","offset":-322.7,"values":[0,29.6,59.2,88.8,118.4,148]}}}},
{"data":{"values":[{}]},"mark":{"type":"rect","color":"white"},"encoding":{"x":{"datum":-6.37},"x2":{"datum":129.6},"y":{"datum":183.5},"y2":{"datum":178.5}}},
{"data":{"values":[{"country":"Sweden","total":"total cases: 60,836","recent":"recent new/day: 1,073"}]},"encoding":{"x":{"datum":61.5},"y":{"datum":0}},"layer":[
{"mark":{"type":"text","fontSize":27,"align":"center","dy":38.5,"color":"#000000"},"encoding":{"text":{"field":"country"}}},
{"mark":{"type":"text","fontSize":12.4,"align":"center","dy":64.5,"color":"#909090"},"encoding":{"text":{"field":"total"}}},
{"mark":{"type":"text","fontSize":12.4,"align":"center","dy":78.5,"color":"#909090"},"encoding":{"text":{"field":"recent"}}}]}
]},
{"layer":[
{"data":{"name":"uk"},"mark":{"type":"line","color":"#ff0000","strokeWidth":3},"encoding":{"x":{"field":"day","type":"quantitative","title":null,"scale":{"domain":[-6.94,129.7],"range":[619,879],"zero":false,"nice":false},"axis":{"orient":"bottom","offset":-92,"values":[0,20,40,60,80,100,120],"labelExpr":"timeFormat(datetime(2020,1,21+datum.value),'%m/%d')"}},"y":{"field":"v","type":"quantitative","title":null,"scale":{"domain":[0,100],"range":[718.7,618.7],"zero":false,"nice":false},"axis":{"orient":"left","offset":-619,"values":[0,32,64,96,128,160]}}}},
{"data":{"values":[{"country":"United Kingdom","total":"total cases: 307,673","recent":"recent new/day: 1,154"}]},"encoding":{"x":{"datum":61.4},"y":{"datum":0}},"layer":[
{"mark":{"type":"text","fontSize":27,"align":"center","dy":38.5,"color":"#000000"},"encoding":{"text":{"field":"country"}}},
{"mark":{"type":"text","fontSize":12.4,"align":"center","dy":64.5,"color":"#909090"},"encoding":{"text":{"field":"total"}}},
{"mark":{"type":"text","fontSize":12.4,"align":"center","dy":78.5,"color":"#909090"},"encoding":{"text":{"field":"recent"}}}]}
]},
{"layer":[
{"data":{"name":"us"},"mark":{"type":"line","color":"#ff0000","strokeWidth":3},"encoding":{"x":{"field":"day","type":"quantitative","title":null,"scale":{"domain":[-6.47,129.7],"range":[917,1176],"zero":false,"nice":false},"axis":{"orient":"bottom","offset":-92,"values":[0,20,40,60,80,100,120],"labelExpr":"timeFormat(datetime(2020,1,21+datum.value),'%m/%d')"}},"y":{"field":"v","type":"quantitative","title":null,"scale":{"domain":[0,100],"range":[718.7,618.7],"zero":false,"nice":false},"axis":{"orient":"left","offset":-917,"values":[0,32,64,96,128,160]}}}},
{"data":{"values":[{"country":"US","total":"total cases: 2,347,007","recent":"recent new/day: 29,898"}]},"encoding":{"x":{"datum":61.6},"y":{"datum":0}},"layer":[
{"mark":{"type":"text","fontSize":27,"align":"center","dy":38.5,"color":"#000000"},"encoding":{"text":{"field":"country"}}},
{"mark":{"type":"text","fontSize":12.4,"align":"center","dy":63.5,"color":"#909090"},"encoding":{"text":{"field":"total"}}},
{"mark":{"type":"text","fontSize":12.4,"align":"center","dy":77.5,"color":"#909090"},"encoding":{"text":{"field":"recent"}}}]},
{"data":{"values":[{"t":"数据来自于endcoronavirus.org和"}]},"mark":{"type":"text","font":"Noto Sans CJK SC","fontSize":15.8,"align":"left","dy":40,"color":"#000000"},"encoding":{"x":{"datum":131.8},"y":{"datum":0},"text":{"field":"t"}}},
{"data":{"values":[{"t":"https://ourworldindata.org/corona"}]},"mark":{"type":"text","font":"Noto Sans CJK SC","fontSize":15.8,"align":"left","dy":63,"color":"#000000"},"encoding":{"x":{"datum":131.8},"y":{"datum":0},"text":{"field":"t"}}},
{"data":{"values":[{"t":"virus-testing"}]},"mark":{"type":"text","font":"Noto Sans CJK SC","fontSize":15.8,"align":"left","dy":85,"color":"#000000"},"encoding":{"x":{"datum":131.8},"y":{"datum":0},"text":{"field":"t"}}}
]}
],
"resolve":{"scale":{"x":"independent","y":"independent","color":"independent"},"axis":{"x":"independent","y":"independent"}}}
